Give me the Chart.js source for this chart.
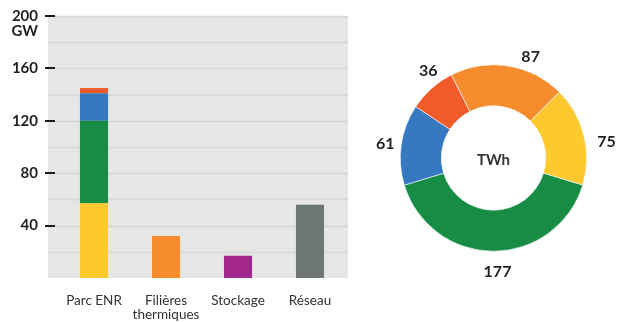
<!DOCTYPE html>
<html>
<head>
<meta charset="utf-8">
<script src="https://cdn.jsdelivr.net/npm/chart.js@4.4.1/dist/chart.umd.min.js"></script>
<style>
  html, body { margin: 0; padding: 0; background: #fff; }
  #wrap { position: relative; width: 629px; height: 322px; }
  #bars { position: absolute; left: 0; top: 0; }
  #ring { position: absolute; left: 360px; top: 0; }
</style>
</head>
<body>
<div id="wrap">
  <canvas id="bars" width="360" height="322"></canvas>
  <canvas id="ring" width="269" height="322"></canvas>
</div>
<script>
// Capacity (GW) per category
const categories = ["Parc ENR", ["Filières", "thermiques"], "Stockage", "Réseau"];
const solaire  = [57, 0, 0, 0];
const eolien   = [63, 0, 0, 0];
const hydro    = [21, 0, 0, 0];
const autres   = [4, 0, 0, 0];
const thermique = [0, 32, 0, 0];
const stockage  = [0, 0, 17, 0];
const reseau    = [0, 0, 0, 56];
const yTickLabels = [40, 80, 120, 160, 200];

// Energy (TWh), clockwise from the yellow slice
const energyLabels = ["Solaire", "Éolien", "Hydraulique", "Bioénergies", "Thermique"];
const energyValues = [75, 177, 61, 36, 87];

const YELLOW = "#fec82f", GREEN = "#168c45", BLUE = "#3679c0",
      RED = "#f15a2a", ORANGE = "#f68c2e", PURPLE = "#a4278d", GREY = "#6f7676";
const INK = "#231f20";

Chart.defaults.font.family = "Lato, 'Open Sans', sans-serif";
Chart.defaults.color = INK;

// grey panel, light gridlines and axis dashes behind the bars
const panelPlugin = {
  id: "panel",
  beforeDraw(chart) {
    const { ctx, chartArea, scales } = chart;
    const y = scales.y;
    const left = chartArea.left - 10, right = chartArea.right + 2;
    ctx.save();
    ctx.fillStyle = "#e6e6e5";
    ctx.fillRect(left, chartArea.top, right - left, chartArea.bottom - chartArea.top);
    ctx.strokeStyle = "#d8d8d7";
    ctx.lineWidth = 1.5;
    for (let v = 20; v <= 200; v += 20) {
      const py = Math.round(y.getPixelForValue(v)) + 0.5;
      ctx.beginPath();
      ctx.moveTo(left, py);
      ctx.lineTo(right, py);
      ctx.stroke();
    }
    ctx.restore();
  },
  afterDraw(chart) {
    const { ctx, chartArea, scales } = chart;
    const y = scales.y;
    ctx.save();
    ctx.strokeStyle = "#1a1a1a";
    ctx.lineWidth = 2;
    yTickLabels.forEach(v => {
      const py = Math.round(y.getPixelForValue(v));
      ctx.beginPath();
      ctx.moveTo(chartArea.left - 13, py);
      ctx.lineTo(chartArea.left - 3, py);
      ctx.stroke();
    });
    // unit under the top tick
    ctx.fillStyle = INK;
    ctx.font = "bold 15px Lato, sans-serif";
    ctx.textAlign = "right";
    ctx.textBaseline = "middle";
    ctx.fillText("GW", chartArea.left - 20, y.getPixelForValue(200) + 15);
    ctx.restore();
  }
};

function barSet(label, data, color) {
  return { label, data, backgroundColor: color, borderWidth: 0,
           barPercentage: 0.39, categoryPercentage: 1, stack: "s" };
}

new Chart(document.getElementById("bars"), {
  type: "bar",
  data: {
    labels: categories,
    datasets: [
      barSet("Solaire", solaire, YELLOW),
      barSet("Éolien", eolien, GREEN),
      barSet("Hydraulique", hydro, BLUE),
      barSet("Autres", autres, RED),
      barSet("Thermique", thermique, ORANGE),
      barSet("Stockage", stockage, PURPLE),
      barSet("Réseau", reseau, GREY),
    ],
  },
  options: {
    responsive: false,
    animation: false,
    layout: { padding: { top: 16, right: 14, left: 0, bottom: 0 } },
    plugins: { legend: { display: false }, tooltip: { enabled: false } },
    scales: {
      x: {
        stacked: true,
        grid: { display: false },
        border: { display: false },
        ticks: {
          padding: 8,
          autoSkip: false,
          maxRotation: 0,
          minRotation: 0,
          font: { size: 13.5, lineHeight: 1.0 },
          color: "#333",
        },
        afterFit: s => { s.height = 44; },
      },
      y: {
        stacked: true,
        min: 0,
        max: 200,
        grid: { display: false },
        border: { display: false },
        ticks: {
          stepSize: 20,
          padding: 12,
          font: { size: 15, weight: "bold" },
          callback: v => (yTickLabels.includes(v) ? String(v) : ""),
        },
        afterFit: s => {
          s.width = 58;
          s.paddingTop = 0;
          s.paddingBottom = 0;
        },
      },
    },
  },
  plugins: [panelPlugin],
});

// value labels outside the ring, plus the unit in the hole
const labelNudge = [6, -2, -1, 5, 11];
const labelGap = [21, 21, 16, 16, 15];
const ringLabels = {
  id: "ringLabels",
  afterDraw(chart) {
    const { ctx } = chart;
    const arcs = chart.getDatasetMeta(0).data;
    ctx.save();
    ctx.fillStyle = INK;
    ctx.textAlign = "center";
    ctx.textBaseline = "middle";
    ctx.font = "bold 16px Lato, sans-serif";
    arcs.forEach((arc, i) => {
      const mid = (arc.startAngle + arc.endAngle) / 2 + labelNudge[i] * Math.PI / 180;
      const r = arc.outerRadius + labelGap[i];
      ctx.fillText(String(energyValues[i]), arc.x + Math.cos(mid) * r, arc.y + Math.sin(mid) * r);
    });
    const a = arcs[0];
    ctx.font = "bold 15px Lato, sans-serif";
    ctx.fillStyle = "#333";
    ctx.fillText("TWh", a.x, a.y + 2);
    ctx.restore();
  }
};

new Chart(document.getElementById("ring"), {
  type: "doughnut",
  data: {
    labels: energyLabels,
    datasets: [{
      data: energyValues,
      backgroundColor: [YELLOW, GREEN, BLUE, RED, ORANGE],
      borderColor: "#ffffff",
      borderWidth: 0.6,
    }],
  },
  options: {
    responsive: false,
    animation: false,
    rotation: 45,
    cutout: "56%",
    layout: { padding: { left: 40, right: 42, top: 64, bottom: 70 } },
    plugins: { legend: { display: false }, tooltip: { enabled: false } },
  },
  plugins: [ringLabels],
});
</script>
</body>
</html>
